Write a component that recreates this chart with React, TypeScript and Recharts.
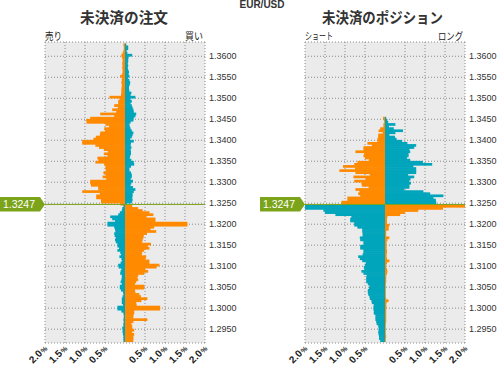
import React from 'react';
import { BarChart, Bar, XAxis, YAxis, CartesianGrid, ReferenceLine, Cell } from 'recharts';

const CURRENT_PRICE = 1.3247;
const PRICE_DOMAIN = [1.2917, 1.3634];
const PRICE_TICKS = [1.36, 1.355, 1.35, 1.345, 1.34, 1.335, 1.33, 1.325, 1.32, 1.315, 1.31, 1.305, 1.3, 1.295];
const PCT_TICKS = [-2, -1.5, -1, -0.5, 0.5, 1, 1.5, 2];

// lower edge of every 0.0005 price bucket, top to bottom (1.3625 ... 1.2920)
const BUCKET_LOWS = Array.from({ length: 142 }, (_, i) => +(1.3625 - i * 0.0005).toFixed(4));

// open orders, % of total — above current price (1.3625 ... 1.3245)
const orderSellAbove = [
  0.04, 0.03, 0.03, 0.04, 0.06, 0.09, 0.08, 0.06, 0.06, 0.07,
  0.06, 0.07, 0.06, 0.06, 0.07, 0.12, 0.08, 0.08, 0.09, 0.08,
  0.08, 0.09, 0.09, 0.09, 0.10, 0.39, 0.14, 0.17, 0.17, 0.27,
  0.18, 0.32, 0.22, 0.62, 0.27, 0.87, 0.97, 0.96, 0.49, 0.40,
  0.52, 0.50, 0.62, 0.63, 0.73, 0.79, 1.07, 1.07, 0.74, 0.65,
  0.53, 0.43, 0.53, 0.44, 0.69, 0.67, 0.74, 0.52, 0.49, 0.49,
  0.48, 0.54, 0.48, 0.56, 0.47, 0.87, 0.87, 0.85, 0.67, 0.67,
  1.07, 0.63, 0.72, 0.72, 0.60, 0.60, 0.12,
];
const orderBuyAbove = [
  0.03, 0.08, 0.08, 0.04, 0.06, 0.18, 0.09, 0.08, 0.08, 0.07,
  0.08, 0.07, 0.08, 0.10, 0.09, 0.11, 0.08, 0.11, 0.13, 0.12,
  0.10, 0.10, 0.11, 0.16, 0.14, 0.26, 0.14, 0.17, 0.14, 0.17,
  0.19, 0.21, 0.22, 0.28, 0.26, 0.22, 0.21, 0.14, 0.11, 0.12,
  0.14, 0.17, 0.21, 0.19, 0.17, 0.13, 0.22, 0.15, 0.14, 0.16,
  0.14, 0.15, 0.15, 0.13, 0.12, 0.16, 0.22, 0.23, 0.15, 0.11,
  0.11, 0.15, 0.17, 0.17, 0.14, 0.20, 0.16, 0.14, 0.20, 0.26,
  0.22, 0.19, 0.19, 0.18, 0.19, 0.17, 0.05,
];
// below current price (1.3240 ... 1.2920)
const orderSellBelow = [
  0.04, 0.07, 0.08, 0.13, 0.17, 0.37, 0.32, 0.25, 0.44, 0.44,
  0.27, 0.25, 0.24, 0.27, 0.26, 0.23, 0.25, 0.23, 0.19, 0.19,
  0.15, 0.19, 0.12, 0.10, 0.14, 0.09, 0.08, 0.11, 0.17, 0.16,
  0.09, 0.11, 0.12, 0.08, 0.08, 0.09, 0.11, 0.08, 0.13, 0.13,
  0.10, 0.05, 0.04, 0.06, 0.08, 0.08, 0.08, 0.05, 0.19, 0.19,
  0.09, 0.04, 0.03, 0.03, 0.04, 0.03, 0.04, 0.04, 0.07, 0.06,
  0.06, 0.05, 0.04, 0.04, 0.04,
];
const orderBuyBelow = [
  0.18, 0.33, 0.44, 0.61, 0.71, 0.54, 0.76, 0.76, 1.56, 1.56,
  0.73, 0.64, 0.78, 0.55, 0.47, 0.46, 0.44, 0.43, 0.65, 0.57,
  0.61, 0.48, 0.43, 0.42, 0.53, 0.51, 0.61, 0.61, 0.86, 0.79,
  0.51, 0.58, 0.48, 0.33, 0.31, 0.33, 0.28, 0.25, 0.48, 0.48,
  0.25, 0.26, 0.36, 0.40, 0.56, 0.41, 0.28, 0.29, 0.88, 0.88,
  0.23, 0.23, 0.21, 0.21, 0.56, 0.21, 0.16, 0.18, 0.18, 0.23,
  0.18, 0.23, 0.21, 0.21, 0.21,
];

// open positions — nothing above 1.3455
const posEmptyTop = 35;
// 1.3450 ... 1.3245
const posShortAbove = [
  0.05, 0.03, 0.02, 0.04, 0.04, 0.12, 0.16, 0.06, 0.17, 0.17,
  0.19, 0.19, 0.44, 0.33, 0.54, 0.54, 0.74, 0.52, 0.54, 0.50,
  0.40, 0.69, 0.77, 1.05, 0.75, 1.14, 0.74, 0.38, 0.79, 0.49,
  0.77, 0.59, 0.58, 0.41, 0.74, 0.64, 0.67, 0.62, 0.94, 0.94,
  1.09, 1.09,
];
const posLongAbove = [
  0.03, 0.06, 0.08, 0.26, 0.10, 0.22, 0.45, 0.26, 0.11, 0.25,
  0.29, 0.43, 0.56, 0.78, 0.73, 0.61, 0.63, 0.59, 0.59, 0.55,
  0.63, 0.95, 1.18, 0.71, 0.78, 0.78, 0.78, 0.58, 0.73, 0.64,
  0.61, 0.65, 0.61, 0.61, 0.48, 0.96, 1.13, 1.46, 1.21, 1.27,
  1.28, 1.28,
];
// 1.3240 ... 1.2920
const posShortBelow = [
  2.05, 2.05, 1.54, 1.50, 1.24, 0.84, 0.87, 0.87, 0.77, 0.77,
  0.69, 0.57, 0.57, 0.56, 0.56, 0.63, 0.62, 0.54, 0.54, 0.62,
  0.62, 0.54, 0.54, 0.56, 0.67, 0.63, 0.57, 0.48, 0.50, 0.53,
  0.52, 0.59, 0.54, 0.46, 0.47, 0.47, 0.47, 0.43, 0.39, 0.40,
  0.43, 0.43, 0.42, 0.39, 0.38, 0.34, 0.33, 0.28, 0.29, 0.29,
  0.28, 0.28, 0.24, 0.24, 0.24, 0.22, 0.21, 0.17, 0.16, 0.16,
  0.17, 0.16, 0.15, 0.15, 0.12,
];
const posLongBelow = [
  2.05, 1.45, 0.83, 0.50, 0.38, 0.06, 0.05, 0.05, 0.05, 0.11,
  0.09, 0.09, 0.03, 0.03, 0.03, 0.11, 0.06, 0.04, 0.04, 0.04,
  0.04, 0.05, 0.05, 0.04, 0.04, 0.05, 0.11, 0.05, 0.03, 0.03,
  0.05, 0.06, 0.05, 0.03, 0.03, 0.03, 0.03, 0.02, 0.02, 0.02,
  0.02, 0.02, 0.02, 0.02, 0.03, 0.09, 0.04, 0.03, 0.04, 0.03,
  0.03, 0.03, 0.03, 0.03, 0.03, 0.03, 0.02, 0.02, 0.02, 0.02,
  0.02, 0.02, 0.03, 0.02, 0.02,
];

const ORANGE = '#ff8a00';
const TEAL = '#00a5bc';
const GREEN = '#7ca41a';
const FONT = '"Liberation Sans", Arial, sans-serif';
const JP_FONT = '"Noto Sans CJK JP", sans-serif';

const zeros = (n: number) => new Array(n).fill(0);

const buildRows = (left: number[], right: number[]) =>
  BUCKET_LOWS.map((low, i) => {
    const price = low + 0.00025;
    return { price, left: -left[i], right: right[i], above: price > CURRENT_PRICE };
  });

const orderRows = buildRows(
  [...orderSellAbove, ...orderSellBelow],
  [...orderBuyAbove, ...orderBuyBelow]
);
const positionRows = buildRows(
  [...zeros(posEmptyTop), ...posShortAbove, ...posShortBelow],
  [...zeros(posEmptyTop), ...posLongAbove, ...posLongBelow]
);

// bucket bar: keep Recharts' x/width, but make the bar fill its whole price bucket
const BucketBar = (props: any) => {
  const { x, y, width, height, fill } = props;
  if (x == null || y == null || !width) return null;
  const cy = y + height / 2;
  const h = 2.7;
  return (
    <rect x={Math.min(x, x + width)} y={cy - h / 2} width={Math.abs(width)} height={h} fill={fill} />
  );
};

const PctTick = (props: any) => {
  const { x, y, payload } = props;
  const tx = x + 3;
  return (
    <text x={tx} y={y} textAnchor="end" transform={`rotate(-45, ${tx}, ${y})`} fill="#222"
      fontSize={10} fontWeight="bold" fontFamily={FONT}>
      {Math.abs(payload.value).toFixed(1)}
      <tspan fontSize={7} dx={1}>%</tspan>
    </text>
  );
};

const PriceTag = (props: any) => {
  const { viewBox } = props;
  if (!viewBox) return null;
  const x = viewBox.x;
  const y = viewBox.y;
  return (
    <g>
      <path d={`M${x - 45},${y - 7.5} H${x - 5} L${x},${y} L${x - 5},${y + 7} H${x - 45} Z`} fill={GREEN} />
      <text x={x - 26} y={y + 3.8} textAnchor="middle" fill="#fff" fontSize={10.5} fontFamily={FONT}>
        {CURRENT_PRICE.toFixed(4)}
      </text>
    </g>
  );
};

const Panel = ({ rows, width, axisWidth }: { rows: any[]; width: number; axisWidth: number }) => (
  <BarChart
    width={width}
    height={365}
    data={rows}
    layout="vertical"
    stackOffset="sign"
    barCategoryGap={0}
    margin={{ top: 42, right: 0, bottom: 0, left: 45 }}
  >
    <CartesianGrid fill="#ebebeb" stroke="#8a8a8a" strokeDasharray="1 2" />
    <XAxis
      type="number"
      domain={[-2, 2]}
      ticks={PCT_TICKS}
      allowDataOverflow
      interval={0}
      axisLine={false}
      tickLine={false}
      tickSize={0}
      tickMargin={6}
      height={22}
      tick={<PctTick />}
    />
    <YAxis
      type="number"
      dataKey="price"
      domain={PRICE_DOMAIN}
      ticks={PRICE_TICKS}
      allowDataOverflow
      reversed
      interval={0}
      orientation="right"
      width={axisWidth}
      axisLine={false}
      tickLine={false}
      tickSize={0}
      tickMargin={4}
      tick={{ fontSize: 9, fill: '#333', fontFamily: FONT }}
      tickFormatter={(v: number) => v.toFixed(4)}
    />
    <Bar dataKey="left" stackId="a" isAnimationActive={false} shape={<BucketBar />}>
      {rows.map((r, i) => (
        <Cell key={`l-${i}`} fill={r.above ? ORANGE : TEAL} />
      ))}
    </Bar>
    <Bar dataKey="right" stackId="a" isAnimationActive={false} shape={<BucketBar />}>
      {rows.map((r, i) => (
        <Cell key={`r-${i}`} fill={r.above ? TEAL : ORANGE} />
      ))}
    </Bar>
    <ReferenceLine y={CURRENT_PRICE} stroke={GREEN} strokeWidth={1} label={<PriceTag />} />
  </BarChart>
);

const App: React.FC = () => {
  return (
    <div style={{ position: 'absolute', left: 0, top: 0, width: 497, height: 365, background: '#fff', fontFamily: FONT }}>
      <svg width={497} height={365} style={{ position: 'absolute', left: 0, top: 0 }}>
        <text x={262} y={8} textAnchor="middle" fontSize={10} fontWeight="bold" fill="#333" fontFamily={FONT}>
          EUR/USD
        </text>
        <text x={124} y={23} textAnchor="middle" fontSize={15} fontWeight="bold" fill="#333" fontFamily={JP_FONT}
          textLength={88} lengthAdjust="spacingAndGlyphs">
          未決済の注文
        </text>
        <text x={382.5} y={23} textAnchor="middle" fontSize={15} fontWeight="bold" fill="#333" fontFamily={JP_FONT}
          textLength={121} lengthAdjust="spacingAndGlyphs">
          未決済のポジション
        </text>
        <text x={45} y={40} fontSize={10} fill="#222" fontFamily={JP_FONT} textLength={17} lengthAdjust="spacingAndGlyphs">
          売り
        </text>
        <text x={185} y={40} fontSize={10} fill="#222" fontFamily={JP_FONT} textLength={18} lengthAdjust="spacingAndGlyphs">
          買い
        </text>
        <text x={305} y={40} fontSize={10} fill="#222" fontFamily={JP_FONT} textLength={28} lengthAdjust="spacingAndGlyphs">
          ショート
        </text>
        <text x={438} y={40} fontSize={10} fill="#222" fontFamily={JP_FONT} textLength={25} lengthAdjust="spacingAndGlyphs">
          ロング
        </text>
      </svg>
      <div style={{ position: 'absolute', left: 0, top: 0 }}>
        <Panel rows={orderRows} width={250} axisWidth={45} />
      </div>
      <div style={{ position: 'absolute', left: 260, top: 0 }}>
        <Panel rows={positionRows} width={237} axisWidth={32} />
      </div>
    </div>
  );
};

export default App;
